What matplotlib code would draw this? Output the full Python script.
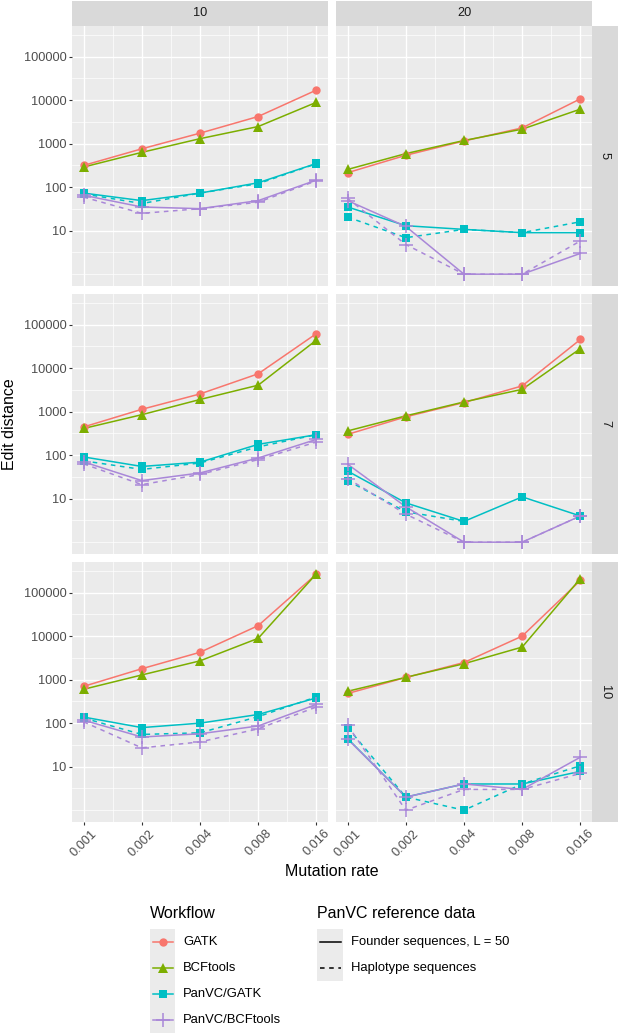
import numpy as np
import matplotlib
matplotlib.use("Agg")
import matplotlib.pyplot as plt
from matplotlib.patches import Rectangle
from matplotlib.lines import Line2D
from matplotlib.ticker import FixedLocator, NullFormatter, FixedFormatter

plt.rcParams['font.family'] = ['Liberation Sans', 'DejaVu Sans']

# ---------------- data ----------------
MUTATION_RATES = [0.001, 0.002, 0.004, 0.008, 0.016]
RATE_LABELS = ["0.001", "0.002", "0.004", "0.008", "0.016"]
ROW_FACETS = ["5", "7", "10"]
COL_FACETS = ["10", "20"]
Y_BREAKS = [10, 100, 1000, 10000, 100000]
Y_LABELS = ["10", "100", "1000", "10000", "100000"]
WORKFLOWS = ["GATK", "BCFtools", "PanVC/GATK", "PanVC/BCFtools"]
REFERENCES = ["Founder sequences, L = 50", "Haplotype sequences"]

# panel order: (5,10), (5,20), (7,10), (7,20), (10,10), (10,20)
GATK = [
    [316, 760, 1740, 4200, 17000],
    [215, 540, 1150, 2300, 10700],
    [445, 1130, 2550, 7400, 62000],
    [300, 760, 1620, 3900, 45500],
    [700, 1780, 4250, 17400, 265000],
    [480, 1120, 2470, 10000, 190000],
]
BCFTOOLS = [
    [290, 630, 1300, 2470, 8900],
    [255, 590, 1180, 2150, 6200],
    [410, 850, 1900, 4050, 44000],
    [360, 800, 1670, 3250, 28000],
    [600, 1280, 2700, 8900, 270000],
    [540, 1130, 2320, 5600, 210000],
]
PANVC_GATK_FOUNDER = [
    [73, 49, 73, 126, 350],
    [35, 13, 10.7, 9, 9],
    [91, 55, 69, 177, 295],
    [43, 8, 3, 11, 4],
    [138, 79, 100, 158, 380],
    [44, 2, 4, 4, 7.8],
]
PANVC_GATK_HAPLO = [
    [70, 42, 73, 120, 345],
    [20.5, 6.9, 10.7, 9, 16],
    [74, 47, 66, 155, 295],
    [26, 5, 3, np.nan, 4],
    [131, 55, 60, 141, 400],
    [79, 2, 1, 4, 10.5],
]
PANVC_BCF_FOUNDER = [
    [65, 35, 32, 49, 145],
    [49, 12.5, 1, 1, 3],
    [70, 26, 39, 86, 230],
    [62, 6.5, 1, 1, 4],
    [117, 48, 57, 86, 270],
    [43, 2, 4, 3, 16.5],
]
PANVC_BCF_HAPLO = [
    [59, 25, 32, 45, 140],
    [55, 4.8, 1, 1, 5.8],
    [63, 21, 36, 79, 200],
    [29, 4.4, 1, 1, 4],
    [107, 27, 37, 74, 235],
    [89, 1, 3, 3, 7],
]

COLORS = ["#F8766D", "#7CAE00", "#00BFC4", "#A987D8"]
MARKERS = ["o", "^", "s", "+"]
MSIZES = [6.0, 6.8, 5.6, 9.5]

SERIES = [
    (GATK, 0, "-"),
    (BCFTOOLS, 1, "-"),
    (PANVC_GATK_FOUNDER, 2, "-"),
    (PANVC_GATK_HAPLO, 2, (0, (3, 3))),
    (PANVC_BCF_FOUNDER, 3, "-"),
    (PANVC_BCF_HAPLO, 3, (0, (3, 3))),
]

# ---------------- layout ----------------
W, H = 618, 1033
fig = plt.figure(figsize=(W / 100, H / 100), dpi=100)
fig.patch.set_facecolor("white")


def px_axes(x0, y0, x1, y1, **kw):
    return fig.add_axes([x0 / W, 1 - y1 / H, (x1 - x0) / W, (y1 - y0) / H], **kw)


col_x = [(72, 328), (336, 592)]
row_y = [(26, 286), (294, 554), (562, 822)]

# scale limits (ggplot-like 5% expansion in transformed space)
lx = np.log2(MUTATION_RATES)
xpad = 0.05 * (lx.max() - lx.min())
xlim = (2 ** (lx.min() - xpad), 2 ** (lx.max() + xpad))
allv = np.concatenate([np.ravel(np.array(s[0], dtype=float)) for s in SERIES])
allv = allv[np.isfinite(allv) & (allv > 0)]
ly0, ly1 = np.log10(allv.min()), np.log10(allv.max())
ypad = 0.05 * (ly1 - ly0)
ylim = (10 ** (ly0 - ypad), 10 ** (ly1 + ypad))

x_minor = [np.sqrt(a * b) for a, b in zip(MUTATION_RATES[:-1], MUTATION_RATES[1:])]
y_minor = [10 ** (k + 0.5) for k in range(-1, 7)] + [1]
y_minor = [v for v in y_minor if ylim[0] <= v <= ylim[1]]

for r in range(3):
    for c in range(2):
        p = r * 2 + c
        x0, x1 = col_x[c]
        y0, y1 = row_y[r]
        ax = px_axes(x0, y0, x1, y1)
        ax.set_facecolor("#EBEBEB")
        for sp in ax.spines.values():
            sp.set_visible(False)
        ax.set_xscale("log", base=2)
        ax.set_yscale("log")
        ax.set_xlim(*xlim)
        ax.set_ylim(*ylim)
        ax.xaxis.set_major_locator(FixedLocator(MUTATION_RATES))
        ax.xaxis.set_major_formatter(FixedFormatter(RATE_LABELS))
        ax.xaxis.set_minor_locator(FixedLocator(x_minor))
        ax.xaxis.set_minor_formatter(NullFormatter())
        ax.yaxis.set_major_locator(FixedLocator(Y_BREAKS))
        ax.yaxis.set_major_formatter(FixedFormatter(Y_LABELS))
        ax.yaxis.set_minor_locator(FixedLocator(y_minor))
        ax.yaxis.set_minor_formatter(NullFormatter())
        ax.grid(which="major", color="white", lw=1.0)
        ax.grid(which="minor", color="white", lw=0.5)
        ax.set_axisbelow(True)
        ax.tick_params(which="minor", length=0)
        ax.tick_params(which="major", length=2.5, width=0.8, color="#333333",
                       labelsize=9.2, labelcolor="#4D4D4D", pad=1.5)
        if c != 0:
            ax.tick_params(axis="y", which="both", left=False, labelleft=False)
        if r != 2:
            ax.tick_params(axis="x", which="both", bottom=False, labelbottom=False)
        else:
            for lab in ax.get_xticklabels():
                lab.set_rotation(45)
                lab.set_ha("center")
                lab.set_va("top")

        for data, wi, ls in SERIES:
            ax.plot(MUTATION_RATES, data[p], color=COLORS[wi], lw=1.1, ls=ls,
                    zorder=2)
        for data, wi, ls in SERIES:
            ax.plot(MUTATION_RATES, data[p], color=COLORS[wi], lw=0, ls="none",
                    marker=MARKERS[wi], ms=MSIZES[wi], mew=1.1 if MARKERS[wi] == "+" else 0,
                    zorder=3)

# ---------------- overlay (strips, titles, legend) ----------------
ov = px_axes(0, 0, W, H)
ov.set_xlim(0, W)
ov.set_ylim(H, 0)
ov.axis("off")
ov.patch.set_alpha(0)

for c in range(2):
    x0, x1 = col_x[c]
    ov.add_patch(Rectangle((x0, 1), x1 - x0, 25, facecolor="#D9D9D9", edgecolor="none"))
    ov.text((x0 + x1) / 2, 13.5, COL_FACETS[c], ha="center", va="center",
            fontsize=9.2, color="#1A1A1A")
for r in range(3):
    y0, y1 = row_y[r]
    ov.add_patch(Rectangle((592, y0), 26, y1 - y0, facecolor="#D9D9D9", edgecolor="none"))
    ov.text(605, (y0 + y1) / 2, ROW_FACETS[r], ha="center", va="center",
            rotation=-90, fontsize=9.2, color="#1A1A1A")

ov.text(10, (row_y[0][0] + row_y[2][1]) / 2, "Edit distance", rotation=90,
        ha="center", va="center", fontsize=11.5, color="black")
ov.text((col_x[0][0] + col_x[1][1]) / 2, 872, "Mutation rate",
        ha="center", va="center", fontsize=11.5, color="black")

# legend: Workflow
ov.text(150, 914, "Workflow", ha="left", va="center", fontsize=11.5, color="black")
for i, name in enumerate(WORKFLOWS):
    ky = 929 + 26 * i
    ov.add_patch(Rectangle((150, ky), 25, 26, facecolor="#EBEBEB", edgecolor="none"))
    cy = ky + 13
    ov.add_line(Line2D([152.5, 172.5], [cy, cy], color=COLORS[i], lw=1.1))
    ov.add_line(Line2D([162.5], [cy], color=COLORS[i], marker=MARKERS[i], ls="none",
                       ms=MSIZES[i], mew=1.1 if MARKERS[i] == "+" else 0))
    ov.text(183, cy, name, ha="left", va="center", fontsize=9.4, color="black")

# legend: PanVC reference data
ov.text(317, 914, "PanVC reference data", ha="left", va="center", fontsize=11.5,
        color="black")
for i, (name, ls) in enumerate(zip(REFERENCES, ["-", (0, (3, 3))])):
    ky = 929 + 26 * i
    ov.add_patch(Rectangle((317, ky), 26, 26, facecolor="#EBEBEB", edgecolor="none"))
    cy = ky + 13
    ov.add_line(Line2D([319.5, 340.5], [cy, cy], color="black", lw=1.1, ls=ls))
    ov.text(351, cy, name, ha="left", va="center", fontsize=9.4, color="black")

fig.savefig("out.png", dpi=100)
